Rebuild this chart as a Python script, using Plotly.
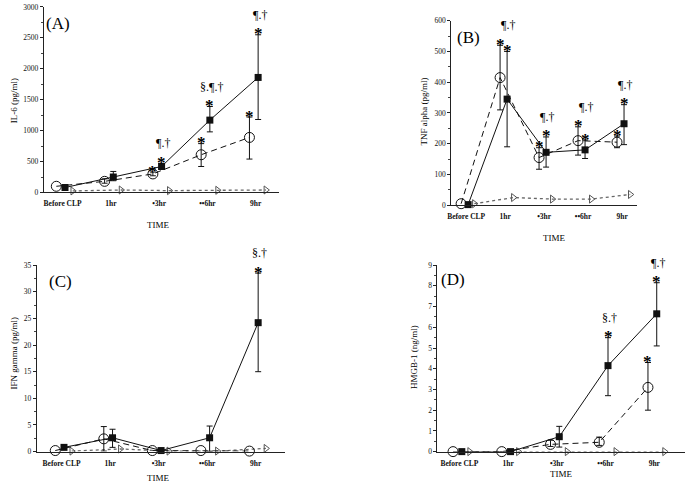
import plotly.graph_objects as go

# ---------------- data ----------------
categories = ["Before CLP", "1hr", "\u20223hr", "\u2022\u20226hr", "9hr"]

# Panel A: IL-6 (pg/ml)
il6_circle = [100, 180, 300, 610, 890]
il6_circle_up = [0, 40, 30, 180, 330]
il6_circle_dn = [0, 30, 30, 190, 350]
il6_square = [80, 250, 420, 1170, 1860]
il6_square_up = [0, 90, 50, 220, 690]
il6_square_dn = [0, 60, 40, 190, 680]
il6_triangle = [25, 40, 30, 35, 40]

# Panel B: TNF alpha (pg/ml)
tnf_circle = [5, 415, 155, 210, 205]
tnf_circle_up = [0, 105, 32, 45, 20]
tnf_circle_dn = [0, 105, 38, 47, 18]
tnf_square = [2, 345, 172, 180, 265]
tnf_square_up = [0, 155, 50, 32, 62]
tnf_square_dn = [0, 155, 48, 28, 68]
tnf_triangle = [5, 25, 20, 20, 35]

# Panel C: IFN gamma (pg/ml)
ifn_circle = [0.2, 2.4, 0.2, 0.2, 0.1]
ifn_circle_up = [0, 2.3, 0, 0, 0]
ifn_circle_dn = [0, 2.3, 0, 0, 0]
ifn_square = [0.8, 2.6, 0.2, 2.6, 24.2]
ifn_square_up = [0.4, 1.6, 0, 2.2, 9.3]
ifn_square_dn = [0.4, 1.8, 0, 2.6, 9.2]
ifn_triangle = [0.1, 0.5, 0.1, 0.1, 0.6]

# Panel D: HMGB-1 (ng/ml)
hmgb_circle = [0, 0, 0.35, 0.45, 3.1]
hmgb_circle_up = [0, 0, 0.2, 0.25, 1.2]
hmgb_circle_dn = [0, 0, 0.1, 0.15, 1.1]
hmgb_square = [0, 0, 0.72, 4.15, 6.65]
hmgb_square_up = [0, 0, 0.5, 1.35, 1.5]
hmgb_square_dn = [0, 0, 0.5, 1.45, 1.55]
hmgb_triangle = [0, 0, 0, 0, 0]

# significance marks: asterisks (series, index) and label texts by index
stars_A = [("c", 2), ("s", 2), ("c", 3), ("s", 3), ("c", 4), ("s", 4)]
stars_B = [("c", 1), ("s", 1), ("c", 2), ("s", 2), ("c", 3), ("s", 3), ("c", 4), ("s", 4)]
stars_C = [("s", 4)]
stars_D = [("s", 3), ("s", 4), ("c", 4)]
sig_A = {2: "\u00b6.\u2020", 3: "\u00a7.\u00b6.\u2020", 4: "\u00b6.\u2020"}
sig_B = {1: "\u00b6.\u2020", 2: "\u00b6.\u2020", 3: "\u00b6.\u2020", 4: "\u00b6.\u2020"}
sig_C = {4: "\u00a7.\u2020"}
sig_D = {3: "\u00a7.\u2020", 4: "\u00b6.\u2020"}

# ---------------- layout helpers ----------------
W, H = 685, 490
FONT = "Liberation Serif"
OFF_C, OFF_S, OFF_T = -0.13, 0.05, 0.21

fig = go.Figure()
annotations = []


def px_x(p):
    return p / W


def px_y(p):
    return 1 - p / H


def add_panel(idx, circ, cu, cd, sq, su, sd, tri, stars, sig, label,
              xdom, ydom, xrange, yrange, dtick, minor, ytitle, ytitle_pos,
              xtitle_pos, label_pos):
    sfx = "" if idx == 1 else str(idx)
    xa, ya = "x" + sfx, "y" + sfx
    xc = [k + OFF_C for k in range(5)]
    xs = [k + OFF_S for k in range(5)]
    xt = [k + OFF_T for k in range(5)]
    # triangle (dotted)
    fig.add_trace(go.Scatter(x=xt, y=tri, mode="lines+markers", xaxis=xa, yaxis=ya,
                             line=dict(color="#666", width=1.3, dash="dot"),
                             marker=dict(symbol="triangle-right-open", size=7,
                                         color="#555", line=dict(width=1)),
                             cliponaxis=False, showlegend=False))
    # circle (dashed)
    fig.add_trace(go.Scatter(x=xc, y=circ, mode="lines+markers", xaxis=xa, yaxis=ya,
                             line=dict(color="#111", width=1, dash="6px,4px"),
                             marker=dict(symbol="circle-open", size=10, color="#111",
                                         line=dict(width=1)),
                             cliponaxis=False, showlegend=False))
    # square (solid)
    fig.add_trace(go.Scatter(x=xs, y=sq, mode="lines+markers", xaxis=xa, yaxis=ya,
                             line=dict(color="#111", width=1),
                             marker=dict(symbol="square", size=7, color="#111"),
                             cliponaxis=False, showlegend=False))
    # error bars (only where present)
    for xx, vv, up, dn in ((xc, circ, cu, cd), (xs, sq, su, sd)):
        ii = [i for i in range(5) if up[i] > 0 or dn[i] > 0]
        if ii:
            fig.add_trace(go.Scatter(
                x=[xx[i] for i in ii], y=[vv[i] for i in ii], mode="markers",
                xaxis=xa, yaxis=ya, marker=dict(size=1, opacity=0),
                error_y=dict(type="data", symmetric=False,
                             array=[up[i] for i in ii], arrayminus=[dn[i] for i in ii],
                             color="#111", thickness=1, width=3),
                cliponaxis=False, showlegend=False, hoverinfo="skip"))
    # asterisks
    for ser, i in stars:
        if ser == "c":
            x0, top = xc[i], circ[i] + cu[i]
        else:
            x0, top = xs[i], sq[i] + su[i]
        annotations.append(dict(x=x0, y=top, xref=xa, yref=ya, text="<b>*</b>",
                                showarrow=False, yanchor="middle", yshift=1,
                                font=dict(family=FONT, size=17, color="#000")))
    # significance labels
    for i, txt in sig.items():
        top = max(circ[i] + cu[i], sq[i] + su[i])
        annotations.append(dict(x=i + 0.08, y=top, xref=xa, yref=ya, text=txt,
                                showarrow=False, yanchor="middle", yshift=20,
                                font=dict(family=FONT, size=12, color="#000")))
    # panel label
    annotations.append(dict(x=px_x(label_pos[0]), y=px_y(label_pos[1]), xref="paper",
                            yref="paper", text=label, showarrow=False,
                            xanchor="center", yanchor="middle",
                            font=dict(family=FONT, size=17, color="#000")))
    # axis titles
    annotations.append(dict(x=px_x(ytitle_pos[0]), y=px_y(ytitle_pos[1]), xref="paper",
                            yref="paper", text=ytitle, showarrow=False, textangle=-90,
                            xanchor="center", yanchor="middle",
                            font=dict(family=FONT, size=9, color="#000")))
    annotations.append(dict(x=px_x(xtitle_pos[0]), y=px_y(xtitle_pos[1]), xref="paper",
                            yref="paper", text="TIME", showarrow=False,
                            xanchor="center", yanchor="middle",
                            font=dict(family=FONT, size=9, color="#000")))
    fig.layout["xaxis" + sfx] = dict(
        domain=[px_x(xdom[0]), px_x(xdom[1])], range=xrange, anchor=ya,
        tickvals=list(range(5)), ticktext=categories, showgrid=False, zeroline=False,
        showline=True, linecolor="#222", linewidth=1, ticks="outside", ticklen=4,
        tickcolor="rgba(0,0,0,0)", fixedrange=True,
        tickfont=dict(family=FONT, size=7.5, color="#111", weight="bold"))
    fig.layout["yaxis" + sfx] = dict(
        domain=[px_y(ydom[1]), px_y(ydom[0])], range=yrange, anchor=xa,
        dtick=dtick, showgrid=False, zeroline=False, showline=True, linecolor="#222",
        linewidth=1, ticks="outside", ticklen=3, tickcolor="#222",
        minor=dict(dtick=minor, ticks="outside", ticklen=2, tickcolor="#444"),
        tickfont=dict(family=FONT, size=7.5, color="#111"))


add_panel(1, il6_circle, il6_circle_up, il6_circle_dn, il6_square, il6_square_up,
          il6_square_dn, il6_triangle, stars_A, sig_A, "(A)",
          (40, 277), (3, 192), [-0.39, 4.49], [0, 3000], 500, 250,
          "IL-6 (pg/ml)", (10, 98), (155, 225), (54, 20))
add_panel(2, tnf_circle, tnf_circle_up, tnf_circle_dn, tnf_square, tnf_square_up,
          tnf_square_dn, tnf_triangle, stars_B, sig_B, "(B)",
          (450, 637), (17, 205), [-0.38, 4.39], [0, 600], 100, 50,
          "TNF alpha (pg/ml)", (422, 110), (553, 238), (467, 34))
add_panel(3, ifn_circle, ifn_circle_up, ifn_circle_dn, ifn_square, ifn_square_up,
          ifn_square_dn, ifn_triangle, stars_C, sig_C, "(C)",
          (33, 283), (266, 456), [-0.51, 4.61], [0, 35], 5, 2.5,
          "IFN gamma (pg/ml)", (11, 355), (155, 483), (57, 283))
add_panel(4, hmgb_circle, hmgb_circle_up, hmgb_circle_dn, hmgb_square, hmgb_square_up,
          hmgb_square_dn, hmgb_triangle, stars_D, sig_D, "(D)",
          (436, 685), (266, 456), [-0.45, 4.63], [0, 9], 1, 0.5,
          "HMGB-1 (ng/ml)", (413, 360), (560, 479), (452, 281))

fig.update_layout(width=W, height=H, margin=dict(l=0, r=0, t=0, b=0),
                  paper_bgcolor="white", plot_bgcolor="white",
                  annotations=annotations, showlegend=False,
                  font=dict(family=FONT, color="#111"))

fig.write_html("out.html", config={"displayModeBar": False},
               post_script="document.body.style.margin='0';"
                           "document.body.style.overflow='hidden';")
